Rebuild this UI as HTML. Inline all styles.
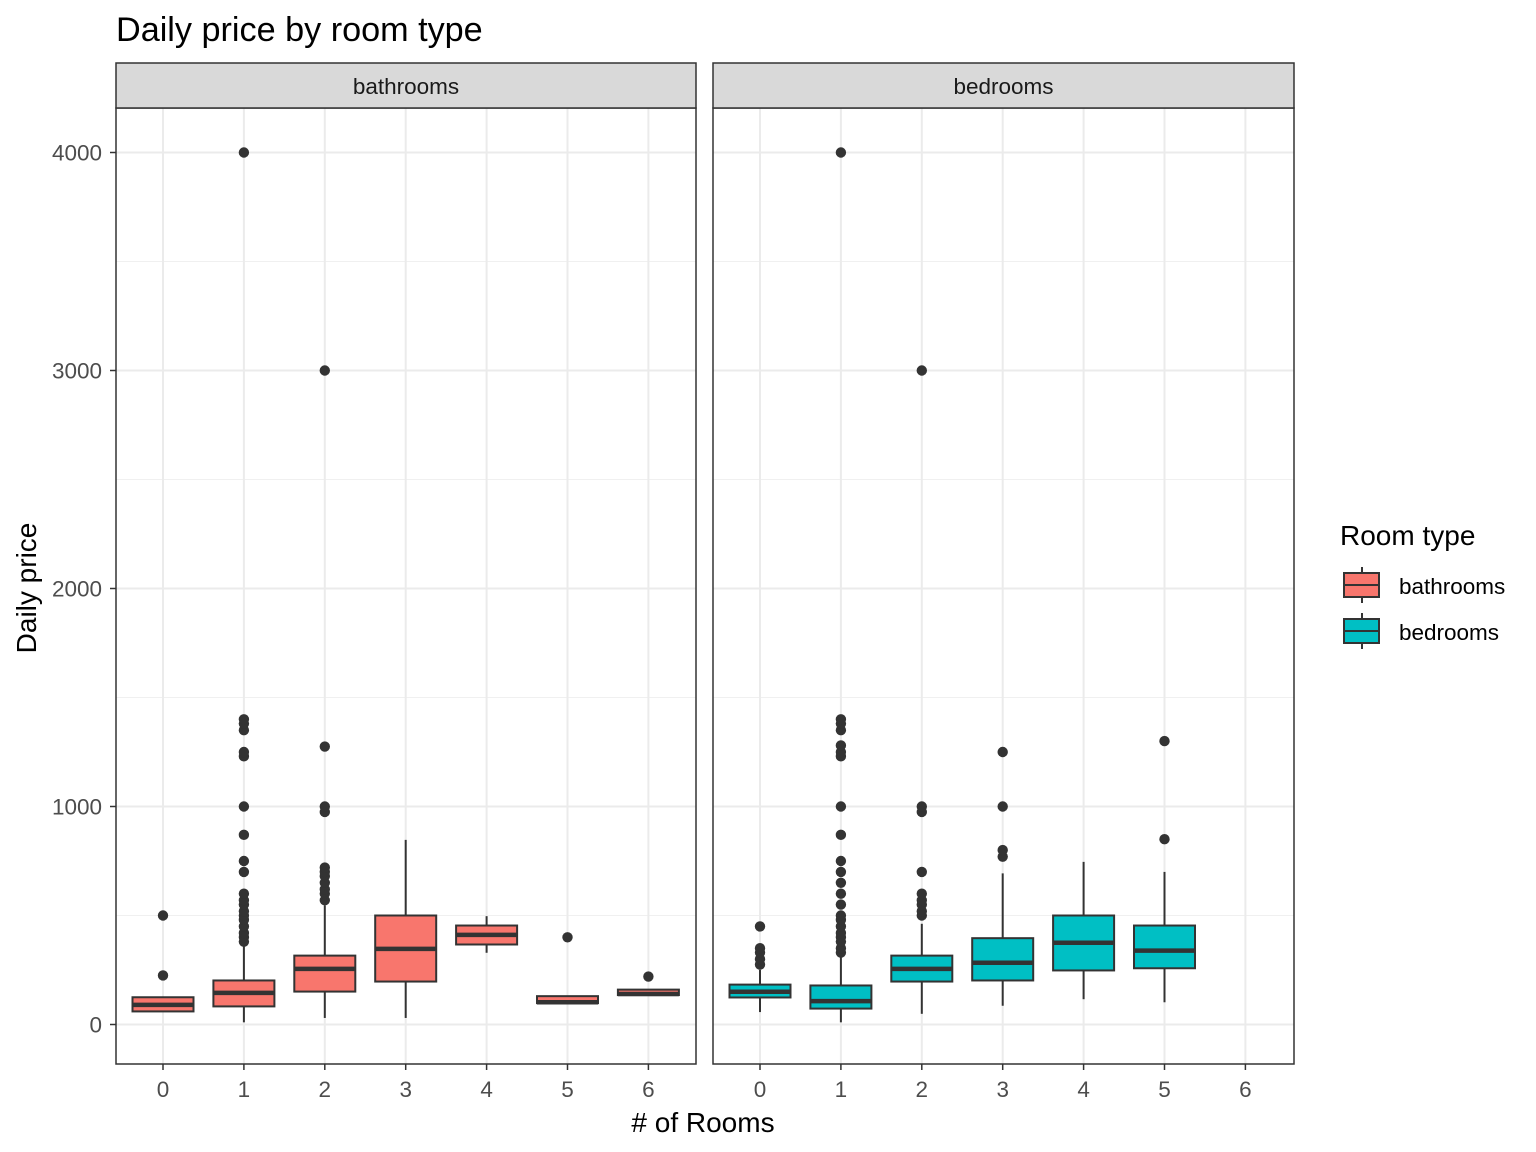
<!DOCTYPE html>
<html><head><meta charset="utf-8"><style>
body{margin:0;background:#fff;}
svg{display:block;font-family:"Liberation Sans",Arial,sans-serif;}
</style></head><body>
<svg id="chart" width="1536" height="1152" viewBox="0 0 1536 1152" xmlns="http://www.w3.org/2000/svg">
<text x="116" y="41" font-size="34.2" fill="#000">Daily price by room type</text>
<text x="703" y="1132" font-size="28" fill="#000" text-anchor="middle"># of Rooms</text>
<text transform="translate(36,588) rotate(-90)" font-size="28" fill="#000" text-anchor="middle">Daily price</text>
<g>
<text x="1340" y="545" font-size="28" fill="#000">Room type</text>
<g>
<line x1="1362" y1="567" x2="1362" y2="603" stroke="#333" stroke-width="2"/>
<rect x="1344" y="573" width="35" height="24" fill="#F8766D" stroke="#333" stroke-width="2"/>
<line x1="1344" y1="585" x2="1379" y2="585" stroke="#333" stroke-width="2"/>
<text x="1399" y="594" font-size="22.5" fill="#000">bathrooms</text>
</g>
<g>
<line x1="1362" y1="613" x2="1362" y2="649" stroke="#333" stroke-width="2"/>
<rect x="1344" y="619" width="35" height="24" fill="#00BFC4" stroke="#333" stroke-width="2"/>
<line x1="1344" y1="631" x2="1379" y2="631" stroke="#333" stroke-width="2"/>
<text x="1399" y="640" font-size="22.5" fill="#000">bedrooms</text>
</g>
</g>
</svg>
<script>
const categories = [0,1,2,3,4,5,6];
const yTicks = [0,1000,2000,3000,4000];
const panels = ["bathrooms","bedrooms"];
// per panel: [cat, lowerWhisker, q1, median, q3, upperWhisker]
const bathBoxes = [[0,60,60,90,125,125],[1,10,83,145,202,378],[2,30,151,255,316,546],[3,30,197,347,500,847],[4,329,367,411,454,497],[5,98,98,102,130,130],[6,135,135,140,160,160]];
const bedBoxes = [[0,57,124,150,183,251],[1,10,73,107,179,324],[2,49,197,255,316,462],[3,86,202,283,396,693],[4,116,248,375,500,746],[5,102,258,339,454,700]];
const bathOutliers = [[0,225,500],[1,380,400,420,450,480,500,520,550,570,600,700,750,870,1000,1230,1250,1350,1380,1400,4000],[2,570,600,620,650,680,700,720,975,1000,1275,3000],[5,400],[6,220]];
const bedOutliers = [[0,275,300,330,350,450],[1,330,350,380,400,420,450,480,500,550,600,650,700,750,870,1000,1230,1250,1280,1350,1380,1400,4000],[2,500,520,550,570,600,700,975,1000,3000],[3,770,800,1000,1250],[5,850,1300]];
const NS="http://www.w3.org/2000/svg";
const svg=document.getElementById('chart');
const panelX=[[116,696],[713,1294]];
const yTop=108,yBot=1064;
function y(v){return 1024.5-v*0.218;}
function x(p,c){const a=panelX[p][0];return a+47+80.9*c;}
function el(t,attrs,parent){const e=document.createElementNS(NS,t);for(const k in attrs)e.setAttribute(k,attrs[k]);(parent||svg).appendChild(e);return e;}
const fills=["#F8766D","#00BFC4"];
const boxesAll=[bathBoxes,bedBoxes],outAll=[bathOutliers,bedOutliers];
const bw=61;
for(let p=0;p<2;p++){
  const [a,b]=panelX[p];
  const g=el('g',{});
  
  
  for(let i=0;i<yTicks.length-1;i++){const v=(yTicks[i]+yTicks[i+1])/2;el('line',{x1:a,x2:b,y1:y(v),y2:y(v),stroke:'#f0f0f0','stroke-width':1},g);}
  yTicks.forEach(v=>{const l=el('line',{x1:a,x2:b,y1:y(v),y2:y(v),stroke:'#ebebeb','stroke-width':2},g);});
  categories.forEach(c=>{el('line',{x1:x(p,c),x2:x(p,c),y1:yTop,y2:yBot,stroke:'#ebebeb','stroke-width':2},g);});
  boxesAll[p].forEach(d=>{
    const [c,lo,q1,md,q3,hi]=d;const cx=x(p,c);
    const bg=el('g',{},g);
    
    
    el('line',{x1:cx,x2:cx,y1:y(hi),y2:y(q3),stroke:'#333','stroke-width':2},bg);
    el('line',{x1:cx,x2:cx,y1:y(q1),y2:y(lo),stroke:'#333','stroke-width':2},bg);
    el('rect',{x:cx-bw/2,y:y(q3),width:bw,height:Math.max(y(q1)-y(q3),1),fill:fills[p],stroke:'#333','stroke-width':2},bg);
    el('line',{x1:cx-bw/2,x2:cx+bw/2,y1:y(md),y2:y(md),stroke:'#333','stroke-width':4.5},bg);
  });
  outAll[p].forEach(d=>{const c=d[0];for(let i=1;i<d.length;i++){const pt=el('circle',{cx:x(p,c),cy:y(d[i]),r:5.2,fill:'#333'},g);}});
  el('rect',{x:a,y:yTop,width:b-a,height:yBot-yTop,fill:'none',stroke:'#333','stroke-width':1.5},g);
  const s=el('g',{},g);
  
  
  el('rect',{x:a,y:63,width:b-a,height:45,fill:'#d9d9d9',stroke:'#333','stroke-width':1.5},s);
  const st=el('text',{x:(a+b)/2,y:94,'font-size':22.5,'text-anchor':'middle',fill:'#1a1a1a'},s);st.textContent=panels[p];
  categories.forEach(c=>{const cx=x(p,c);el('line',{x1:cx,x2:cx,y1:yBot,y2:yBot+6,stroke:'#333','stroke-width':1.5},g);
    const t=el('text',{x:cx,y:yBot+33,'font-size':22.5,'text-anchor':'middle',fill:'#4d4d4d'},g);t.textContent=c;
    });
}
yTicks.forEach(v=>{el('line',{x1:110,x2:116,y1:y(v),y2:y(v),stroke:'#333','stroke-width':1.5});
  const t=el('text',{x:102,y:y(v)+8,'font-size':22.5,'text-anchor':'end',fill:'#4d4d4d'});t.textContent=v;
  });
</script>
</body></html>
